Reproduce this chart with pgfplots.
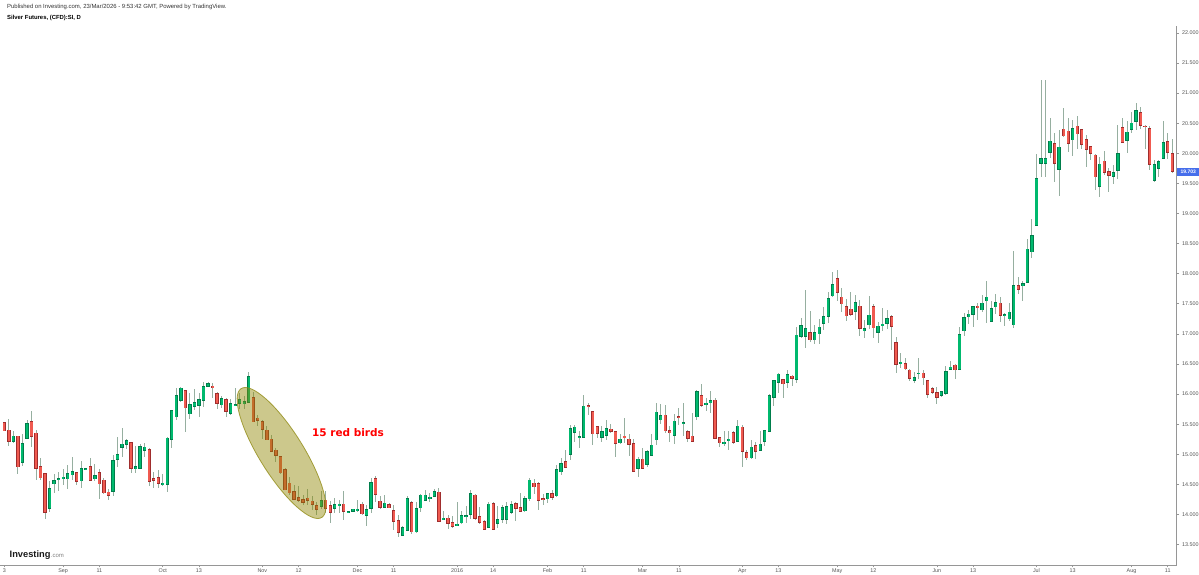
\documentclass[border=0pt]{standalone}
\usepackage{pgfplots}
\usepackage{pgfplotstable}
\usepackage{fontspec}
\setmainfont{Liberation Sans}
\newfontfamily\djv{DejaVu Sans}
\pgfplotsset{compat=1.18}
\definecolor{wick}{RGB}{150,175,160}
\definecolor{gdark}{RGB}{0,125,75}
\definecolor{gfill}{RGB}{0,185,110}
\definecolor{rdark}{RGB}{160,45,45}
\definecolor{rfill}{RGB}{240,90,80}
\definecolor{axgray}{RGB}{150,150,150}
\definecolor{txgray}{RGB}{85,85,85}
% i = bar number, t/b = top and bottom of body, h/l = high and low, g = 1 rising, 0 falling
\pgfplotstableread{
i t b h l g
0 15.53 15.39 15.53 15.39 0
1 15.40 15.21 15.58 15.14 0
2 15.30 15.22 15.38 15.19 1
3 15.30 14.79 15.30 14.68 0
4 15.18 14.86 15.33 14.81 1
5 15.51 15.26 15.57 15.25 1
6 15.54 15.30 15.71 15.12 0
7 15.35 14.76 15.40 14.57 0
8 14.80 14.61 14.93 14.57 0
9 14.68 14.04 14.69 13.92 0
10 14.43 14.10 14.56 14.05 1
11 14.56 14.51 14.67 14.36 1
12 14.60 14.58 14.71 14.40 1
13 14.62 14.60 14.76 14.49 1
14 14.68 14.59 14.82 14.43 1
15 14.71 14.66 14.95 14.58 1
16 14.70 14.55 14.71 14.49 0
17 14.76 14.56 14.88 14.45 1
18 14.76 14.75 14.76 14.75 1
19 14.80 14.57 14.93 14.56 0
20 14.65 14.59 14.84 14.56 1
21 14.69 14.51 14.75 14.26 0
22 14.57 14.36 14.60 14.35 0
23 14.37 14.32 14.42 14.25 0
24 14.89 14.38 14.99 14.31 1
25 14.99 14.92 15.28 14.79 1
26 15.17 15.12 15.43 14.95 1
27 15.23 15.16 15.26 15.09 1
28 15.19 14.76 15.19 14.69 0
29 14.80 14.76 15.13 14.69 1
30 15.13 14.76 15.17 14.75 1
31 15.12 15.07 15.18 14.95 1
32 15.08 14.55 15.10 14.47 0
33 14.60 14.57 14.71 14.45 0
34 14.61 14.52 14.73 14.44 0
35 14.52 14.50 14.67 14.48 1
36 15.27 14.50 15.29 14.37 1
37 15.72 15.25 15.74 15.10 1
38 15.98 15.62 16.10 15.57 1
39 16.10 15.89 16.12 15.87 1
40 16.06 15.77 16.07 15.38 0
41 15.82 15.67 16.01 15.59 1
42 15.86 15.79 16.08 15.74 1
43 15.91 15.81 16.01 15.62 1
44 16.12 15.90 16.20 15.79 1
45 16.17 16.13 16.20 16.12 1
46 16.13 16.11 16.19 15.94 0
47 16.01 15.84 16.03 15.75 0
48 15.92 15.82 15.97 15.77 1
49 15.91 15.71 15.93 15.62 0
50 15.84 15.68 15.91 15.66 1
51 15.83 15.81 16.10 15.80 1
52 15.91 15.84 16.01 15.76 1
53 15.87 15.85 15.96 15.76 1
54 16.29 15.86 16.37 15.85 1
55 15.94 15.54 16.04 15.54 0
56 15.60 15.56 15.65 15.47 0
57 15.54 15.41 15.56 15.26 0
58 15.40 15.24 15.46 15.24 0
59 15.25 15.05 15.32 15.04 0
60 15.07 14.98 15.10 14.88 0
61 14.96 14.69 14.97 14.68 0
62 14.74 14.41 14.77 14.41 0
63 14.52 14.36 14.62 14.32 0
64 14.38 14.25 14.49 14.24 0
65 14.28 14.23 14.47 14.21 0
66 14.25 14.20 14.32 14.16 0
67 14.27 14.23 14.42 14.16 0
68 14.22 14.17 14.31 14.07 0
69 14.15 14.09 14.21 13.99 0
70 14.23 14.14 14.38 14.10 1
71 14.24 14.10 14.38 14.03 0
72 14.15 14.03 14.23 13.86 0
73 14.16 14.10 14.27 14.02 1
74 14.17 14.16 14.24 14.02 1
75 14.17 14.05 14.38 13.91 0
76 14.05 14.03 14.05 14.03 1
77 14.09 14.05 14.09 14.04 1
78 14.09 14.06 14.24 14.05 1
79 14.17 14.01 14.21 13.99 0
80 14.08 13.98 14.16 13.81 1
81 14.53 14.10 14.61 14.02 1
82 14.59 14.33 14.63 14.21 0
83 14.22 14.12 14.31 14.10 0
84 14.19 14.12 14.32 14.11 1
85 14.16 14.11 14.19 14.11 0
86 14.07 13.89 14.16 13.75 0
87 13.90 13.70 13.99 13.63 0
88 13.78 13.65 13.81 13.65 1
89 14.26 13.74 14.31 13.73 1
90 14.20 13.71 14.23 13.67 0
91 14.10 13.71 14.20 13.69 1
92 14.32 14.11 14.34 14.05 1
93 14.32 14.24 14.41 14.23 1
94 14.29 14.27 14.36 14.21 1
95 14.38 14.30 14.42 14.29 1
96 14.37 13.88 14.43 13.87 0
97 13.94 13.91 14.06 13.91 1
98 13.94 13.85 13.99 13.76 0
99 13.87 13.80 13.98 13.77 0
100 13.84 13.82 14.20 13.81 1
101 13.98 13.86 14.05 13.85 1
102 13.98 13.96 14.14 13.86 1
103 14.35 14.00 14.40 13.93 1
104 14.32 13.93 14.34 13.91 0
105 13.97 13.87 14.13 13.84 0
106 13.88 13.75 13.91 13.74 0
107 14.17 13.79 14.21 13.77 1
108 14.18 13.75 14.20 13.74 0
109 13.91 13.85 14.14 13.77 1
110 14.12 13.92 14.16 13.86 1
111 14.13 13.92 14.20 13.85 1
112 14.16 14.03 14.23 14.01 1
113 14.18 14.10 14.21 13.90 0
114 14.12 14.05 14.36 14.04 0
115 14.26 14.06 14.31 14.05 1
116 14.57 14.26 14.60 14.23 1
117 14.52 14.46 14.59 14.35 0
118 14.51 14.24 14.53 14.08 0
119 14.26 14.25 14.34 14.16 0
120 14.35 14.26 14.36 14.20 1
121 14.35 14.29 14.41 14.24 0
122 14.74 14.31 14.82 14.30 1
123 14.85 14.71 14.93 14.66 1
124 14.88 14.78 15.07 14.77 0
125 15.43 15.00 15.48 14.90 1
126 15.45 15.36 15.49 15.21 1
127 15.29 15.28 15.38 15.11 1
128 15.80 15.28 15.99 15.28 1
129 15.81 15.79 15.85 15.65 0
130 15.71 15.34 15.72 15.15 0
131 15.46 15.35 15.47 15.28 0
132 15.38 15.28 15.46 15.20 1
133 15.43 15.31 15.57 15.24 1
134 15.42 15.38 15.50 15.36 0
135 15.38 15.18 15.38 14.95 0
136 15.25 15.19 15.33 15.18 1
137 15.30 15.29 15.60 15.19 0
138 15.25 15.17 15.33 14.98 0
139 15.18 14.72 15.26 14.71 0
140 14.92 14.76 14.95 14.62 1
141 14.92 14.76 15.11 14.76 0
142 15.04 14.83 15.07 14.79 1
143 15.15 14.98 15.34 14.97 1
144 15.70 15.24 15.85 15.16 1
145 15.64 15.57 15.83 15.50 1
146 15.65 15.39 15.82 15.36 0
147 15.39 15.36 15.46 15.21 0
148 15.55 15.31 15.67 15.17 1
149 15.62 15.61 15.76 15.49 0
150 15.53 15.52 15.85 15.30 1
151 15.38 15.26 15.40 15.21 0
152 15.30 15.22 15.68 15.21 0
153 16.04 15.62 16.07 15.57 1
154 15.97 15.81 16.17 15.79 0
155 15.85 15.83 15.93 15.72 1
156 15.89 15.86 16.05 15.68 1
157 15.90 15.26 15.94 15.25 0
158 15.28 15.19 15.29 15.12 0
159 15.20 15.19 15.38 15.14 1
160 15.25 15.24 15.39 15.07 1
161 15.36 15.20 15.39 15.18 0
162 15.47 15.22 15.56 15.21 1
163 15.45 15.05 15.49 14.79 0
164 15.03 14.94 15.07 14.90 0
165 15.12 14.94 15.23 14.93 1
166 15.14 15.05 15.20 14.92 0
167 15.17 15.06 15.38 15.05 1
168 15.39 15.22 15.40 15.14 1
169 15.98 15.38 16.00 15.37 1
170 16.22 15.95 16.22 15.81 1
171 16.33 16.20 16.35 16.02 1
172 16.24 16.17 16.24 15.94 0
173 16.32 16.19 16.40 16.11 1
174 16.30 16.26 16.32 16.13 0
175 16.98 16.24 17.12 16.19 1
176 17.14 16.96 17.26 16.94 1
177 17.09 16.96 17.72 16.76 1
178 17.02 16.90 17.37 16.87 0
179 17.02 16.90 17.15 16.83 1
180 17.11 17.00 17.24 16.84 1
181 17.29 17.17 17.44 17.07 1
182 17.59 17.29 17.70 17.19 1
183 17.82 17.63 18.02 17.62 1
184 17.92 17.69 18.06 17.54 0
185 17.61 17.50 17.76 17.37 0
186 17.45 17.30 17.57 17.22 0
187 17.41 17.32 17.69 17.30 0
188 17.52 17.37 17.64 17.23 1
189 17.46 17.09 17.56 16.97 0
190 17.09 17.05 17.23 16.93 1
191 17.31 17.15 17.62 17.09 1
192 17.45 17.10 17.50 16.94 0
193 17.13 17.03 17.20 16.85 1
194 17.16 17.14 17.43 17.05 1
195 17.25 17.18 17.40 17.08 1
196 17.29 17.13 17.31 16.73 0
197 16.86 16.49 16.95 16.36 0
198 16.53 16.50 16.68 16.43 1
199 16.51 16.42 16.59 16.41 0
200 16.40 16.26 16.41 16.22 0
201 16.27 16.23 16.37 16.19 1
202 16.35 16.34 16.59 16.25 1
203 16.35 16.27 16.39 16.15 0
204 16.22 16.00 16.23 15.93 0
205 16.09 16.03 16.11 16.01 0
206 16.02 15.94 16.11 15.84 0
207 16.04 15.98 16.05 15.95 1
208 16.37 16.01 16.47 15.99 1
209 16.45 16.41 16.54 16.40 1
210 16.48 16.40 16.50 16.25 0
211 16.99 16.41 17.12 16.40 1
212 17.27 17.05 17.34 16.96 1
213 17.33 17.28 17.39 17.16 1
214 17.45 17.32 17.46 17.11 1
215 17.46 17.43 17.51 17.23 0
216 17.51 17.40 17.65 17.37 1
217 17.61 17.55 17.88 17.18 1
218 17.42 17.21 17.54 17.20 1
219 17.52 17.45 17.66 17.34 1
220 17.51 17.31 17.61 17.20 0
221 17.32 17.30 17.35 17.13 1
222 17.36 17.25 17.51 17.22 1
223 17.80 17.15 18.37 17.10 1
224 17.80 17.74 17.94 17.66 0
225 17.84 17.80 17.88 17.55 1
226 18.41 17.86 18.58 17.84 1
227 18.63 18.36 18.91 18.27 1
228 19.58 18.80 19.98 18.79 1
229 19.91 19.83 21.22 19.61 1
230 19.91 19.83 21.22 19.61 1
231 20.20 20.01 20.58 19.93 1
232 20.16 19.83 20.33 19.53 0
233 20.10 19.73 20.39 19.29 1
234 20.40 20.29 20.75 20.28 0
235 20.37 20.17 20.59 20.03 0
236 20.41 20.22 20.55 19.96 1
237 20.45 20.32 20.61 20.07 0
238 20.39 20.15 20.40 20.07 0
239 20.23 20.07 20.30 19.78 0
240 20.11 20.00 20.12 19.89 0
241 19.97 19.61 19.98 19.39 0
242 19.82 19.45 19.93 19.27 1
243 19.87 19.68 20.03 19.64 0
244 19.70 19.63 19.76 19.36 0
245 19.68 19.62 19.81 19.49 1
246 19.99 19.71 20.47 19.58 1
247 20.43 20.18 20.58 20.17 0
248 20.35 20.22 20.53 20.01 1
249 20.50 20.40 20.69 20.34 1
250 20.71 20.53 20.84 20.39 1
251 20.68 20.46 20.76 20.41 0
252 20.45 20.44 20.47 20.08 0
253 20.41 19.81 20.45 19.72 0
254 19.81 19.55 19.89 19.53 1
255 19.86 19.75 19.89 19.61 1
256 20.18 19.92 20.53 19.90 1
257 20.19 20.02 20.33 19.91 0
258 20.00 19.70 20.24 19.67 0
}\bars
\pgfplotsset{
  ebar/.style n args={2}{draw=none, no markers, forget plot, unbounded coords=discard,
    error bars/.cd, y dir=both, y explicit, error mark=none,
    error bar style={draw=#1, line width=#2, solid}},
}
\begin{document}
\begin{tikzpicture}[x=1pt,y=1pt]
\path[use as bounding box] (0,0) rectangle (1199,575);
\begin{axis}[
  at={(0pt,10pt)}, anchor=south west, scale only axis,
  width=1176.7pt, height=539pt,
  xmin=-0.957, xmax=258.98, ymin=13.161, ymax=22.114,
  axis x line=bottom, axis y line=right,
  axis line style={draw=axgray, line width=0.9pt, -},
  xtick={0,13,21,35,43,57,65,78,86,100,108,120,128,141,149,163,171,184,192,206,214,228,236,249,257},
  xticklabels={3,Sep,11,Oct,13,Nov,12,Dec,11,2016,14,Feb,11,Mar,11,Apr,13,May,12,Jun,13,Jul,13,Aug,11},
  ytick={13.5,14,14.5,15,15.5,16,16.5,17,17.5,18,18.5,19,19.5,20,20.5,21,21.5,22},
  yticklabel style={/pgf/number format/fixed, /pgf/number format/precision=3,
    /pgf/number format/fixed zerofill, /pgf/number format/assume math mode=true,
    font=\fontsize{5.4}{6}\selectfont, text=txgray, xshift=-0.5pt},
  xticklabel style={font=\fontsize{5.4}{6}\selectfont, text=txgray, yshift=2pt},
  tick style={draw=axgray, line width=0.6pt},
  tick align=outside, major tick length=2.5pt,
  clip=false,
]
\addplot[ebar={wick}{0.9pt}] table[x=i, y expr=(\thisrow{h}+\thisrow{l})/2,
  y error expr=(\thisrow{h}-\thisrow{l})/2+0.002] {\bars};
% rising bodies
\addplot[ebar={gdark}{3.3pt}] table[x expr={\thisrow{g}==1 ? \thisrow{i} : nan}, y expr=(\thisrow{t}+\thisrow{b})/2,
  y error expr=(\thisrow{t}-\thisrow{b})/2+0.008] {\bars};
\addplot[ebar={gfill}{2.1pt}] table[x expr={\thisrow{g}==1 ? \thisrow{i} : nan}, y expr=(\thisrow{t}+\thisrow{b})/2,
  y error expr=(\thisrow{t}-\thisrow{b})/2-0.004] {\bars};
% falling bodies
\addplot[ebar={rdark}{3.3pt}] table[x expr={\thisrow{g}==0 ? \thisrow{i} : nan}, y expr=(\thisrow{t}+\thisrow{b})/2,
  y error expr=(\thisrow{t}-\thisrow{b})/2+0.008] {\bars};
\addplot[ebar={rfill}{2.1pt}] table[x expr={\thisrow{g}==0 ? \thisrow{i} : nan}, y expr=(\thisrow{t}+\thisrow{b})/2,
  y error expr=(\thisrow{t}-\thisrow{b})/2-0.004] {\bars};
\end{axis}
% ellipse
\draw[draw=black!20!olive!80!yellow, line width=0.8pt, fill=olive, fill opacity=0.45, draw opacity=0.8,
  shift={(281.5pt,122pt)}, rotate=-58] (0,0) ellipse [x radius=76pt, y radius=22pt];
\node[anchor=center, text=red, font=\djv\bfseries\fontsize{10.5}{12}\selectfont] at (348,142) {15 red birds};
% header
\node[anchor=west, inner sep=0pt, text=black!80, font=\fontsize{5.95}{7}\selectfont] at (7,568) {Published on Investing.com, 23/Mar/2026 - 9:53:42 GMT, Powered by TradingView.};
\node[anchor=west, inner sep=0pt, text=black, font=\bfseries\fontsize{5.9}{7}\selectfont] at (7,557.5) {Silver Futures, (CFD):SI, D};
% logo
\node[anchor=base west, inner sep=0pt, font=\bfseries\fontsize{9.3}{12}\selectfont, text=black!90] (lg) at (9.5,17) {Investing};
\node[anchor=base west, inner sep=0pt, font=\fontsize{6}{8}\selectfont, text=black!50] at (lg.base east) {.com};
% last price
\node[fill={rgb,255:red,70;green,110;blue,235}, text=white, inner sep=0pt, minimum width=22pt, minimum height=8pt, anchor=west, font=\bfseries\fontsize{5}{6}\selectfont] at (1177,403.3) {19.703};
\end{tikzpicture}
\end{document}
